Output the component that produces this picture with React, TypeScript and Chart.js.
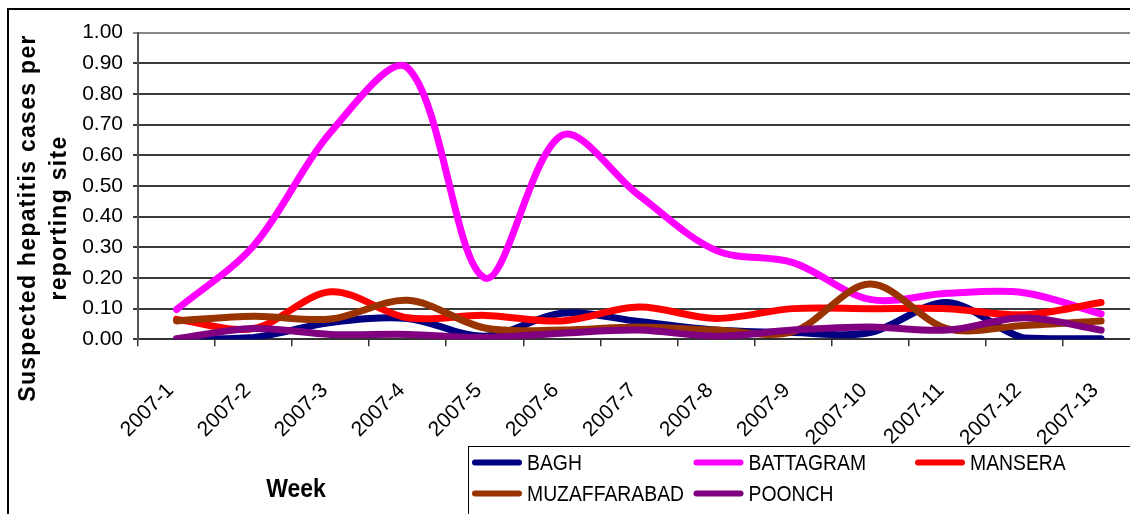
import React, { useEffect, useRef } from "react";
import { Chart, registerables } from "chart.js";

Chart.register(...registerables);

const weeks = [
  "2007-1", "2007-2", "2007-3", "2007-4", "2007-5", "2007-6", "2007-7",
  "2007-8", "2007-9", "2007-10", "2007-11", "2007-12", "2007-13",
];

const bagh = [0.0, 0.006, 0.055, 0.068, 0.01, 0.085, 0.058, 0.03, 0.022, 0.022, 0.12, 0.004, 0.002];
const battagram = [0.097, 0.305, 0.675, 0.885, 0.2, 0.665, 0.47, 0.29, 0.25, 0.13, 0.15, 0.152, 0.083];
const mansera = [0.065, 0.035, 0.155, 0.07, 0.078, 0.06, 0.105, 0.068, 0.1, 0.1, 0.1, 0.08, 0.12];
const muzaffarabad = [0.06, 0.075, 0.066, 0.127, 0.037, 0.03, 0.04, 0.03, 0.025, 0.18, 0.035, 0.045, 0.06];
const poonch = [0.002, 0.035, 0.016, 0.016, 0.006, 0.02, 0.03, 0.01, 0.03, 0.04, 0.03, 0.07, 0.03];

const seriesNames = ["BAGH", "BATTAGRAM", "MANSERA", "MUZAFFARABAD", "POONCH"];
const seriesColors = ["#000080", "#FF00FF", "#FF0000", "#993300", "#800080"];

const yTickLabels = ["0.00", "0.10", "0.20", "0.30", "0.40", "0.50", "0.60", "0.70", "0.80", "0.90", "1.00"];

const yTitleLines = ["Suspected hepatitis cases per", "reporting site"];
const xTitle = "Week";

const FONT = '"Liberation Sans", Arial, sans-serif';

const decorPlugin = {
  id: "decor",
  afterDraw(chart: any) {
    const ctx = chart.ctx as CanvasRenderingContext2D;
    ctx.save();
    ctx.fillStyle = "#000";
    ctx.textAlign = "center";
    ctx.textBaseline = "middle";

    // y axis title (two lines, rotated)
    ctx.font = `bold 23px ${FONT}`;
    (ctx as any).letterSpacing = "1.3px";
    const titleX = [20, 51];
    yTitleLines.forEach((line, i) => {
      ctx.save();
      ctx.translate(titleX[i], 208);
      ctx.rotate(-Math.PI / 2);
      ctx.fillText(line, 0, 0);
      ctx.restore();
    });
    (ctx as any).letterSpacing = "0px";

    // x axis title
    ctx.save();
    ctx.translate(287, 480);
    ctx.scale(0.92, 1);
    ctx.font = `bold 25px ${FONT}`;
    ctx.fillText(xTitle, 0, 0);
    ctx.restore();

    // legend
    ctx.strokeStyle = "#000";
    ctx.lineWidth = 1;
    ctx.strokeRect(459.5, 436.5, 1000, 300);
    chart.data.datasets.forEach((ds: any, i: number) => {
      const col = i % 3;
      const row = Math.floor(i / 3);
      const x = 463 + col * 221.5;
      const y = 452.5 + row * 31;
      ctx.strokeStyle = ds.borderColor;
      ctx.lineWidth = 6;
      ctx.lineCap = "round";
      ctx.beginPath();
      ctx.moveTo(x + 3, y);
      ctx.lineTo(x + 47, y);
      ctx.stroke();
      ctx.save();
      ctx.translate(x + 55, y + 1);
      ctx.scale(0.88, 1);
      ctx.font = `22px ${FONT}`;
      ctx.textAlign = "left";
      ctx.fillStyle = "#000";
      ctx.fillText(ds.label, 0, 0);
      ctx.restore();
    });
    ctx.restore();
  },
};

export default function App() {
  const ref = useRef<HTMLCanvasElement | null>(null);

  useEffect(() => {
    if (!ref.current) return;
    const values = [bagh, battagram, mansera, muzaffarabad, poonch];
    const chart = new Chart(ref.current, {
      type: "line",
      data: {
        labels: weeks,
        datasets: values.map((v, i) => ({
          label: seriesNames[i],
          data: v,
          borderColor: seriesColors[i],
          backgroundColor: seriesColors[i],
          borderWidth: 7,
          pointRadius: 0,
          tension: 0.33,
          fill: false,
          borderCapStyle: "round" as const,
          borderJoinStyle: "round" as const,
          order: values.length - 1 - i,
        })),
      },
      options: {
        responsive: false,
        animation: false,
        devicePixelRatio: 1,
        layout: { padding: { top: 22, right: 1200 - 1130.65, left: 0, bottom: 0 } },
        plugins: {
          legend: { display: false },
          tooltip: { enabled: false },
          title: { display: false },
        },
        scales: {
          x: {
            type: "category",
            offset: true,
            grid: {
              display: true,
              drawOnChartArea: false,
              drawTicks: true,
              tickLength: 7,
              offset: true,
              color: "#333",
              lineWidth: 1.5,
            },
            border: { display: true, color: "#333", width: 2 },
            ticks: {
              autoSkip: false,
              minRotation: 45,
              maxRotation: 45,
              padding: 32,
              labelOffset: -6,
              color: "#000",
              font: { family: FONT, size: 21 },
            },
            afterFit: (s: any) => {
              s.height = 520 - 329.3;
            },
          },
          y: {
            min: 0,
            max: 1,
            ticks: {
              stepSize: 0.1,
              padding: 10,
              color: "#000",
              font: { family: FONT, size: 21 },
              callback: (v: any, i: number) => yTickLabels[i] ?? Number(v).toFixed(2),
            },
            grid: {
              color: (c: any) => (c.tick && c.tick.value === 1 ? "#888" : "#3a3a3a"),
              lineWidth: 2,
              tickLength: 5,
              drawTicks: true,
            },
            border: { display: true, color: "#555", width: 2 },
            afterFit: (s: any) => {
              s.width = 129;
            },
          },
        },
      } as any,
      plugins: [decorPlugin],
    });
    return () => chart.destroy();
  }, []);

  return (
    <div
      style={{
        position: "fixed",
        left: 0,
        top: 0,
        width: 1130,
        height: 514,
        overflow: "hidden",
        background: "#fff",
      }}
    >
      <div
        style={{
          position: "absolute",
          left: 7,
          top: 8,
          width: 1400,
          height: 700,
          borderLeft: "2px solid #000",
          borderTop: "2px solid #000",
        }}
      />
      <canvas
        ref={ref}
        width={1200}
        height={520}
        style={{ position: "absolute", left: 9, top: 10, width: 1200, height: 520 }}
      />
    </div>
  );
}
